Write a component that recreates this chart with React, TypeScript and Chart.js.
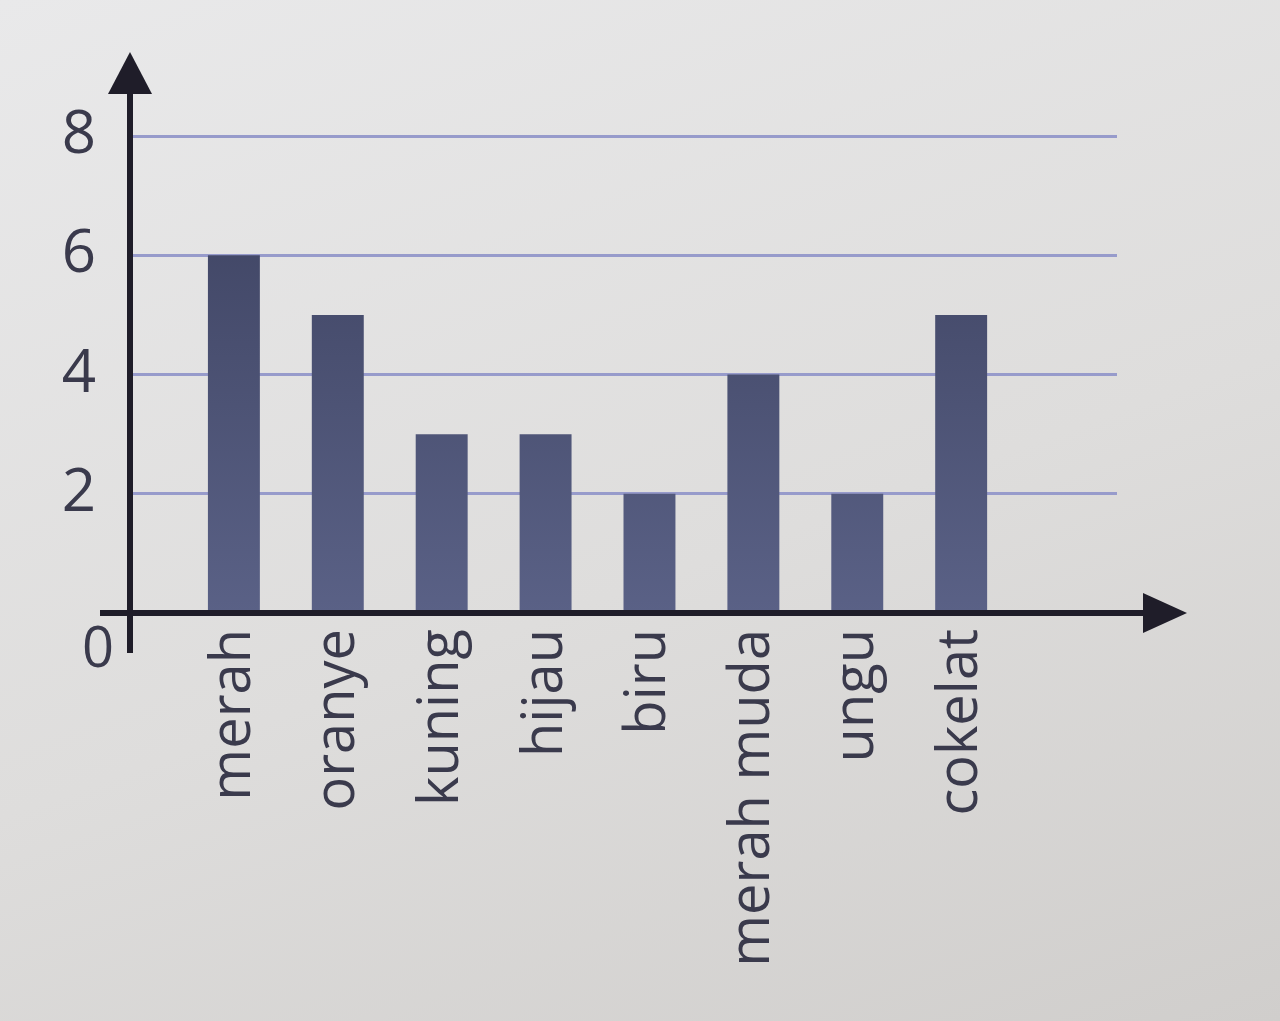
import React, { useEffect, useRef } from 'react';
import { Chart, registerables } from 'chart.js';

Chart.register(...registerables);

const categories = ['merah', 'oranye', 'kuning', 'hijau', 'biru', 'merah muda', 'ungu', 'cokelat'];
const values = [6, 5, 3, 3, 2, 4, 2, 5];
const yTicks = [0, 2, 4, 6, 8];

const FONT = '"Open Sans", "Noto Sans", sans-serif';
const TEXT = '#3a3a4c';
const AXIS = '#1f1d29';

const axesPlugin = {
  id: 'arrowAxes',
  afterDatasetsDraw(chart: any) {
    const { ctx, chartArea, scales } = chart;
    const x0 = chartArea.left;
    const y0 = scales.y.getPixelForValue(0);
    ctx.save();
    ctx.strokeStyle = AXIS;
    ctx.fillStyle = AXIS;
    ctx.lineWidth = 6;
    // y axis line
    ctx.beginPath();
    ctx.moveTo(x0, y0 + 40);
    ctx.lineTo(x0, chartArea.top - 50);
    ctx.stroke();
    // y arrow
    ctx.beginPath();
    ctx.moveTo(x0, chartArea.top - 84);
    ctx.lineTo(x0 - 22, chartArea.top - 42);
    ctx.lineTo(x0 + 22, chartArea.top - 42);
    ctx.closePath();
    ctx.fill();
    // x axis line
    ctx.beginPath();
    ctx.moveTo(x0 - 30, y0);
    ctx.lineTo(chartArea.right + 36, y0);
    ctx.stroke();
    // x arrow
    ctx.beginPath();
    ctx.moveTo(chartArea.right + 70, y0);
    ctx.lineTo(chartArea.right + 26, y0 - 20);
    ctx.lineTo(chartArea.right + 26, y0 + 20);
    ctx.closePath();
    ctx.fill();
    // zero label
    ctx.font = `56px ${FONT}`;
    ctx.fillStyle = TEXT;
    ctx.textAlign = 'center';
    ctx.textBaseline = 'middle';
    ctx.fillText(String(yTicks[0]), x0 - 32, y0 + 38);
    ctx.restore();
  },
};

export default function App() {
  const ref = useRef<HTMLCanvasElement | null>(null);

  useEffect(() => {
    if (!ref.current) return;
    const chart = new Chart(ref.current, {
      type: 'bar',
      data: {
        datasets: [
          {
            data: values.map((v, i) => ({ x: i, y: v })),
            backgroundColor: (c: any) => {
              const area = c.chart.chartArea;
              if (!area) return '#4b5272';
              const g = c.chart.ctx.createLinearGradient(0, area.top, 0, area.bottom);
              g.addColorStop(0, '#3c415f');
              g.addColorStop(1, '#5a6186');
              return g;
            },
            borderWidth: 0,
            barPercentage: 0.5,
            categoryPercentage: 1,
          },
        ],
      },
      options: {
        animation: false,
        responsive: false,
        layout: { padding: { top: 136, right: 163, left: 0, bottom: 0 } },
        plugins: { legend: { display: false }, tooltip: { enabled: false } },
        scales: {
          x: {
            type: 'linear',
            min: -1,
            max: 8.5,
            offset: false,
            grid: { display: false, offset: false, drawTicks: false },
            border: { display: false },
            afterBuildTicks: (scale: any) => {
              scale.ticks = categories.map((_, i) => ({ value: i }));
            },
            afterFit: (scale: any) => {
              scale.height = 1021 - 613;
            },
            ticks: {
              autoSkip: false,
              minRotation: 90,
              maxRotation: 90,
              padding: 16,
              color: TEXT,
              font: { family: FONT, size: 56 },
              callback: (v: any) => categories[v] ?? '',
            },
          },
          y: {
            min: 0,
            max: 8,
            afterBuildTicks: (scale: any) => {
              scale.ticks = yTicks.map((v) => ({ value: v }));
            },
            afterFit: (scale: any) => {
              scale.width = 130;
            },
            grid: { color: '#979bcb', lineWidth: 3, drawTicks: false },
            border: { display: false },
            ticks: {
              padding: 34,
              color: TEXT,
              font: { family: FONT, size: 60 },
              callback: (v: any) => (v === 0 ? '' : String(v)),
            },
          },
        },
      },
      plugins: [axesPlugin],
    } as any);
    return () => chart.destroy();
  }, []);

  return (
    <div
      style={{
        position: 'fixed',
        left: 0,
        top: 0,
        width: 1280,
        height: 1021,
        background: 'linear-gradient(160deg, #e9e9ea 0%, #dedddc 55%, #d0cecc 100%)',
      }}
    >
      <canvas ref={ref} width={1280} height={1021} style={{ display: 'block' }} />
    </div>
  );
}
